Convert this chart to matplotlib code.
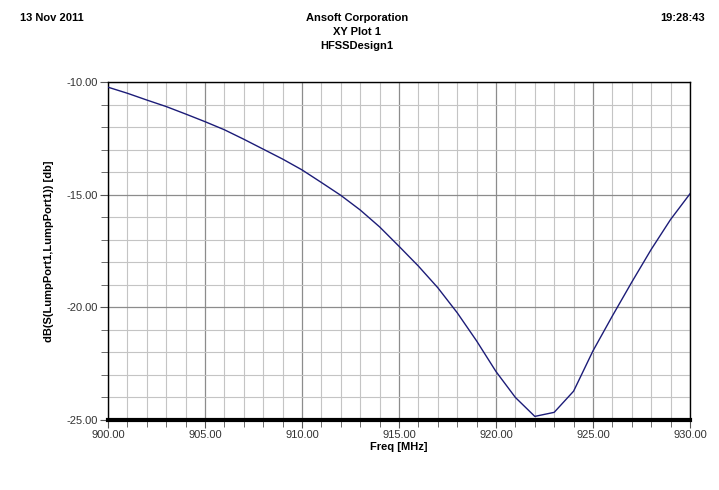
import matplotlib
matplotlib.use("Agg")
import matplotlib.pyplot as plt
from matplotlib.ticker import MultipleLocator, FormatStrFormatter

plt.rcParams['font.family'] = ['Liberation Sans', 'DejaVu Sans']

# S11 sweep
freq_mhz = [900, 901, 902, 903, 904, 905, 906, 907, 908, 909, 910,
            911, 912, 913, 914, 915, 916, 917, 918, 919, 920,
            921, 922, 923, 924, 925, 926, 927, 928, 929, 930]
s11_db = [-10.23, -10.50, -10.80, -11.09, -11.42, -11.76, -12.12, -12.54, -12.98, -13.42, -13.90,
          -14.46, -15.03, -15.68, -16.43, -17.29, -18.17, -19.13, -20.24, -21.49, -22.85,
          -24.00, -24.84, -24.66, -23.72, -21.93, -20.38, -18.88, -17.43, -16.10, -14.96]

header_left = "13 Nov 2011"
header_right = "19:28:43"
title_lines = ["Ansoft Corporation", "XY Plot 1", "HFSSDesign1"]

fig = plt.figure(figsize=(7.19, 4.90), dpi=100)
ax = fig.add_axes([108 / 719, 1 - 420 / 490, 582 / 719, 338 / 490])

ax.plot(freq_mhz, s11_db, color='#1c1c78', lw=1.0, zorder=3)

ax.set_xlim(900, 930)
ax.set_ylim(-25, -10)
ax.xaxis.set_major_locator(MultipleLocator(5))
ax.xaxis.set_minor_locator(MultipleLocator(1))
ax.yaxis.set_major_locator(MultipleLocator(5))
ax.yaxis.set_minor_locator(MultipleLocator(1))
ax.xaxis.set_major_formatter(FormatStrFormatter('%.2f'))
ax.yaxis.set_major_formatter(FormatStrFormatter('%.2f'))

ax.grid(which='major', color='#8c8c8c', lw=0.9)
ax.grid(which='minor', color='#c4c4c4', lw=0.8)
ax.set_axisbelow(True)

ax.tick_params(which='both', direction='out', color='#555555', labelsize=8,
               labelcolor='#333333', top=False, right=False)
ax.tick_params(which='major', length=6, width=0.8, pad=1)
ax.tick_params(which='minor', length=5, width=0.6)

for side in ['left', 'top', 'right']:
    ax.spines[side].set_color('black')
    ax.spines[side].set_linewidth(1.0)
ax.spines['bottom'].set_linewidth(3.0)
ax.spines['bottom'].set_color('black')

ax.set_xlabel('Freq [MHz]', fontsize=8, fontweight='bold', labelpad=2)
ax.set_ylabel('dB(S(LumpPort1,LumpPort1)) [db]', fontsize=8, fontweight='bold', labelpad=9)

fig.text(20 / 719, 1 - 18 / 490, header_left, fontsize=8, fontweight='bold', va='center', ha='left')
fig.text(705 / 719, 1 - 18 / 490, header_right, fontsize=8, fontweight='bold', va='center', ha='right')
for i, line in enumerate(title_lines):
    fig.text(357 / 719, 1 - (18 + 14 * i) / 490, line, fontsize=8, fontweight='bold',
             va='center', ha='center')

fig.savefig('out.png', dpi=100, facecolor='white')
